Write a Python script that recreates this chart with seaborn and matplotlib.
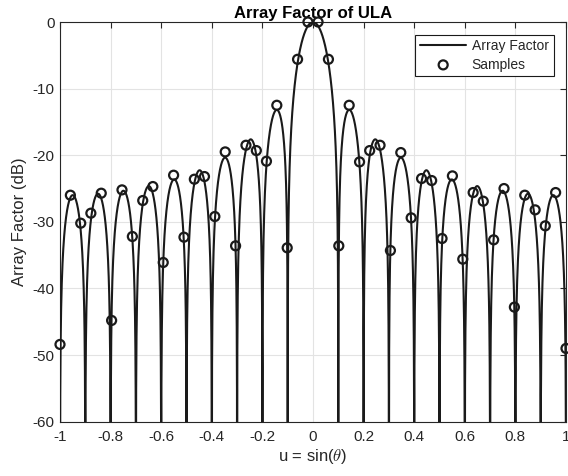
import numpy as np
import pandas as pd
import matplotlib
matplotlib.use("Agg")
import matplotlib.pyplot as plt
import seaborn as sns
from matplotlib.ticker import FuncFormatter

# ---- data -----------------------------------------------------------------
num_elements = 20          # uniform linear array
element_spacing = 0.5      # wavelengths
element_weights = np.ones(num_elements)

sample_u = [-1.000, -0.959, -0.918, -0.878, -0.837, -0.796, -0.755, -0.714,
            -0.673, -0.633, -0.592, -0.551, -0.510, -0.469, -0.429, -0.388,
            -0.347, -0.306, -0.265, -0.224, -0.184, -0.143, -0.102, -0.061,
            -0.020, 0.020, 0.061, 0.102, 0.143, 0.184, 0.224, 0.265,
            0.306, 0.347, 0.388, 0.429, 0.469, 0.510, 0.551, 0.592,
            0.633, 0.673, 0.714, 0.755, 0.796, 0.837, 0.878, 0.918,
            0.959, 1.000]
sample_db = [-48.4, -26.0, -30.2, -28.7, -25.7, -44.8, -25.2, -32.2,
             -26.8, -24.7, -36.1, -23.0, -32.3, -23.6, -23.2, -29.2,
             -19.5, -33.6, -18.5, -19.3, -20.9, -12.5, -33.9, -5.6,
             0.0, 0.0, -5.6, -33.6, -12.5, -21.0, -19.3, -18.5,
             -34.3, -19.6, -29.4, -23.5, -23.8, -32.5, -23.1, -35.6,
             -25.6, -26.9, -32.7, -25.0, -42.8, -26.0, -28.2, -30.6,
             -25.6, -49.0]

x_ticks = [-1, -0.8, -0.6, -0.4, -0.2, 0, 0.2, 0.4, 0.6, 0.8, 1]
y_ticks = [-60, -50, -40, -30, -20, -10, 0]

# ---- array factor of the ULA ---------------------------------------------
u_line = np.linspace(-1, 1, 4001)
n_idx = np.arange(num_elements)
steer = np.exp(1j * 2 * np.pi * element_spacing * np.outer(u_line, n_idx))
af = np.abs(steer @ element_weights) / element_weights.sum()
af_db = np.maximum(20 * np.log10(np.maximum(af, 1e-12)), -100)

line_df = pd.DataFrame({"u": u_line, "AF": af_db})
samp_df = pd.DataFrame({"u": sample_u, "AF": sample_db})

# ---- style ----------------------------------------------------------------
sns.set_theme(style="white")
plt.rcParams["font.family"] = ["Liberation Sans", "DejaVu Sans"]
plt.rcParams["mathtext.fontset"] = "cm"
plt.rcParams["axes.unicode_minus"] = False

ink = "#262626"
fig = plt.figure(figsize=(5.68, 4.76), dpi=100)
ax = fig.add_axes([60 / 568, 1 - 421.7 / 476, 506 / 568, 399.7 / 476])

sns.lineplot(data=line_df, x="u", y="AF", ax=ax, color="#1a1a1a",
             linewidth=1.5, label="Array Factor", sort=False, zorder=3)
sns.scatterplot(data=samp_df, x="u", y="AF", ax=ax, marker="o",
                facecolor="none", edgecolor="#1a1a1a", linewidth=1.6,
                s=42, label="Samples", clip_on=False, zorder=4)

ax.set_xlim(-1, 1)
ax.set_ylim(-60, 0)
ax.set_xticks(x_ticks)
ax.set_yticks(y_ticks)
ax.xaxis.set_major_formatter(FuncFormatter(lambda v, p: f"{v:g}"))
ax.yaxis.set_major_formatter(FuncFormatter(lambda v, p: f"{v:g}"))
ax.grid(True, color="#e3e3e3", linewidth=0.8)
ax.set_axisbelow(True)
for sp in ax.spines.values():
    sp.set_color(ink)
    sp.set_linewidth(0.8)
ax.tick_params(axis="both", which="major", direction="in", length=4,
               width=0.8, color=ink, labelcolor=ink, labelsize=11,
               top=True, right=True)
ax.tick_params(axis="x", pad=6)
ax.tick_params(axis="y", pad=4)

ax.set_xlabel(r"u = sin($\theta$)", fontsize=12, color=ink, labelpad=2)
ax.set_ylabel("Array Factor (dB)", fontsize=12, color=ink, labelpad=4)
ax.set_title("Array Factor of ULA", fontsize=12, fontweight="bold",
             color="black", pad=3)

leg = ax.legend(loc="upper right", fontsize=10, frameon=True, fancybox=False,
                edgecolor="#1a1a1a", framealpha=1, handlelength=3.3,
                handletextpad=0.4, borderaxespad=0.9, borderpad=0.35,
                labelspacing=0.3)
leg.get_frame().set_linewidth(0.8)

fig.savefig("out.png", dpi=100, facecolor="white")
